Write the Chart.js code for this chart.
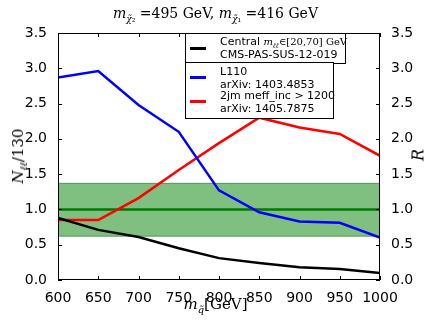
<!DOCTYPE html>
<html>
<head>
<meta charset="utf-8">
<script src="https://cdn.jsdelivr.net/npm/chart.js@4.4.1/dist/chart.umd.min.js"></script>
<style>
  body { margin: 0; background: #fff; }
  #wrap { position: relative; width: 431px; height: 325px; }
  canvas { position: absolute; left: 0; top: 0; }
  .t { position: absolute; white-space: nowrap; color: #000; }
  .serif { font-family: "DejaVu Serif", serif; }
  .sans { font-family: "DejaVu Sans", sans-serif; font-size: 11px; line-height: 13px; }
  .box { position: absolute; border: 1px solid #000; background: #fff; }
  .swatch { position: absolute; height: 3px; width: 16px; }
  sub { line-height: 0; }
</style>
</head>
<body>
<div id="wrap">
  <canvas id="c" width="431" height="325"></canvas>

  <div class="t serif" style="left:0;width:431px;top:5px;text-align:center;font-size:14px;">
    <i>m</i><sub style="font-size:9px"><i>χ̃</i>₂</sub> =495 GeV, <i>m</i><sub style="font-size:9px"><i>χ̃</i>₁</sub> =416 GeV
  </div>

  <div class="box" style="left:185px;top:33px;width:159px;height:29px;"></div>
  <div class="swatch" style="left:190px;top:47px;background:#000;"></div>
  <div class="t sans" style="left:220px;top:35px;">Central <span class="serif" style="font-size:10px"><i>m</i><sub style="font-size:7px"><i>ℓℓ</i></sub>∈[20,70] GeV</span></div>
  <div class="t sans" style="left:220px;top:48px;">CMS-PAS-SUS-12-019</div>

  <div class="box" style="left:185px;top:62px;width:147px;height:55px;"></div>
  <div class="swatch" style="left:190px;top:76px;background:#0000ff;"></div>
  <div class="t sans" style="left:220px;top:65px;">L110</div>
  <div class="t sans" style="left:220px;top:78px;">arXiv: 1403.4853</div>
  <div class="swatch" style="left:190px;top:100px;background:#ff0000;"></div>
  <div class="t sans" style="left:220px;top:89px;">2jm meff_inc &gt; 1200</div>
  <div class="t sans" style="left:220px;top:102px;">arXiv: 1405.7875</div>

  <div class="t serif" style="left:0;width:431px;top:295px;text-align:center;font-size:15px;">
    <i>m</i><sub style="font-size:10px"><i>q̃</i></sub>[GeV]
  </div>
  <div class="t serif" style="left:18px;top:156px;font-size:15px;transform:translate(-50%,-50%) rotate(-90deg);">
    <i>N</i><sub style="font-size:10px"><i>ℓℓ</i></sub>/130
  </div>
  <div class="t serif" style="left:418px;top:155px;font-size:16px;transform:translate(-50%,-50%) rotate(-90deg);">
    <i>R</i>
  </div>
</div>

<script>
const masses = [600, 650, 700, 750, 800, 850, 900, 950, 1000];
const centralCms = [0.88, 0.71, 0.61, 0.45, 0.31, 0.24, 0.18, 0.155, 0.10];
const l110 = [2.87, 2.96, 2.48, 2.10, 1.27, 0.96, 0.83, 0.81, 0.60];
const twoJm = [0.85, 0.85, 1.16, 1.56, 1.94, 2.30, 2.16, 2.07, 1.76];
const bandLow = 0.62;
const bandHigh = 1.37;
const refLine = 1.0;
const yTicks = [0, 0.5, 1.0, 1.5, 2.0, 2.5, 3.0, 3.5];
const xTicks = [600, 650, 700, 750, 800, 850, 900, 950, 1000];

const pts = arr => arr.map((v, i) => ({ x: masses[i], y: v }));
const flat = v => [{ x: 600, y: v }, { x: 1000, y: v }];

// frame + inward ticks like matplotlib
const frame = {
  id: 'frame',
  afterDraw(chart) {
    const { ctx, chartArea: a, scales } = chart;
    ctx.save();
    ctx.strokeStyle = '#000';
    ctx.lineWidth = 1;
    ctx.strokeRect(a.left + 0.5, a.top + 0.5, a.right - a.left - 1, a.bottom - a.top - 1);
    ctx.beginPath();
    xTicks.forEach(t => {
      const x = Math.round(scales.x.getPixelForValue(t)) + 0.5;
      ctx.moveTo(x, a.bottom); ctx.lineTo(x, a.bottom - 4);
      ctx.moveTo(x, a.top); ctx.lineTo(x, a.top + 4);
    });
    yTicks.forEach(t => {
      const y = Math.round(scales.y.getPixelForValue(t)) + 0.5;
      ctx.moveTo(a.left, y); ctx.lineTo(a.left + 4, y);
      ctx.moveTo(a.right, y); ctx.lineTo(a.right - 4, y);
    });
    ctx.stroke();
    ctx.restore();
  }
};

const tickFont = { family: 'DejaVu Sans', size: 14 };

new Chart(document.getElementById('c'), {
  type: 'line',
  data: {
    datasets: [
      { data: pts(centralCms), borderColor: '#000', borderWidth: 2.5, pointRadius: 0, order: 1 },
      { data: pts(l110), borderColor: '#0000ff', borderWidth: 2.5, pointRadius: 0, order: 1 },
      { data: pts(twoJm), borderColor: '#ff0000', borderWidth: 2.5, pointRadius: 0, order: 1 },
      { data: flat(refLine), borderColor: '#007a00', borderWidth: 2.5, pointRadius: 0, order: 2 },
      { data: flat(bandLow), borderColor: 'rgba(0,90,0,0.5)', borderWidth: 1, pointRadius: 0, fill: false, order: 3 },
      { data: flat(bandHigh), borderColor: 'rgba(0,90,0,0.5)', borderWidth: 1, pointRadius: 0,
        fill: '-1', backgroundColor: 'rgba(0,128,0,0.5)', order: 3 }
    ]
  },
  options: {
    responsive: false,
    animation: false,
    layout: { padding: { top: 33, left: 0, right: 0, bottom: 0 } },
    plugins: { legend: { display: false }, tooltip: { enabled: false } },
    scales: {
      x: {
        type: 'linear', min: 600, max: 1000,
        afterBuildTicks: s => { s.ticks = xTicks.map(v => ({ value: v })); },
        afterFit: s => { s.height = 45; },
        grid: { display: false },
        border: { display: false },
        ticks: { font: tickFont, color: '#000', padding: 2, maxRotation: 0, autoSkip: false, callback: v => String(v) }
      },
      y: {
        position: 'left', min: 0, max: 3.5,
        afterBuildTicks: s => { s.ticks = yTicks.map(v => ({ value: v })); },
        afterFit: s => { s.width = 58; },
        grid: { display: false },
        border: { display: false },
        ticks: { font: tickFont, color: '#000', padding: 3, callback: v => v.toFixed(1) }
      },
      y2: {
        position: 'right', min: 0, max: 3.5,
        afterBuildTicks: s => { s.ticks = yTicks.map(v => ({ value: v })); },
        afterFit: s => { s.width = 51; },
        grid: { display: false },
        border: { display: false },
        ticks: { font: tickFont, color: '#000', padding: 3, callback: v => v.toFixed(1) }
      }
    }
  },
  plugins: [frame]
});
</script>
</body>
</html>
